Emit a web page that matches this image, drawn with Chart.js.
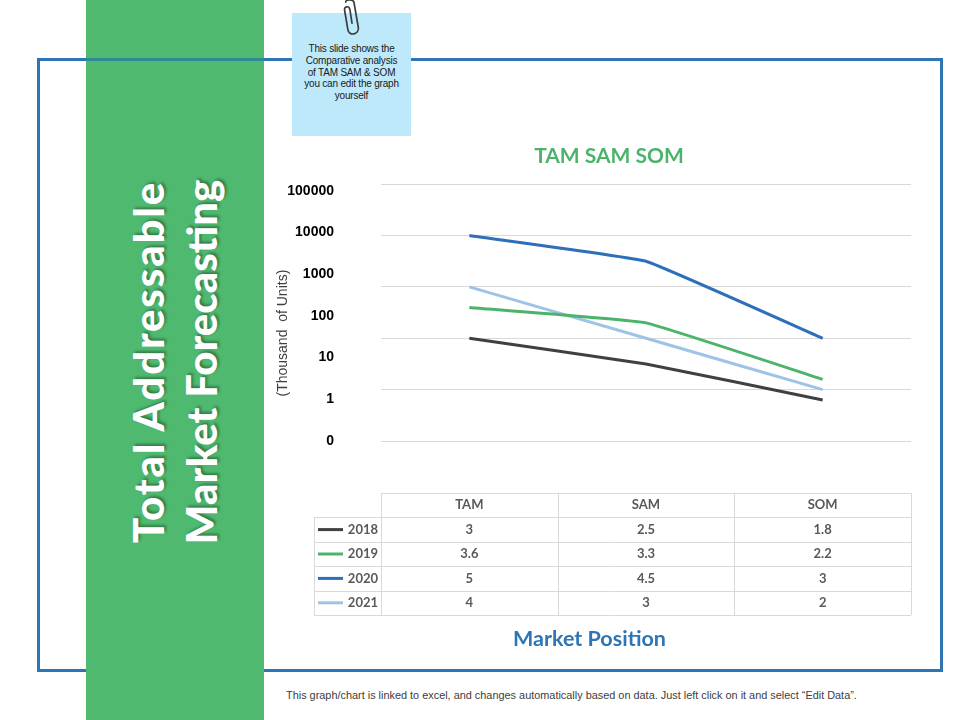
<!DOCTYPE html>
<html>
<head>
<meta charset="utf-8">
<script src="https://cdn.jsdelivr.net/npm/chart.js@4.4.1/dist/chart.umd.min.js"></script>
<style>
  html, body { margin: 0; padding: 0; background: #fff; }
  #slide { position: relative; width: 960px; height: 720px; overflow: hidden; background: #fff; }
  #band { position: absolute; left: 86px; top: 0; width: 178px; height: 720px; background: #4fba6f; }
  #frame { position: absolute; left: 37px; top: 58px; width: 906px; height: 614px; box-sizing: border-box; border: 3px solid #2e75b6; }
  #frameOnBand { position: absolute; left: 86px; top: 58px; width: 178px; height: 3px; background: #2d8a96; }
  #heading { position: absolute; left: 175px; top: 362px; width: 440px; transform: translate(-50%, -50%) rotate(-90deg);
    color: #fff; font-family: Lato, sans-serif; font-weight: 900; font-size: 42px; line-height: 53px; text-align: center;
    text-shadow: 2px 2px 3px rgba(0,0,0,0.35); white-space: nowrap; }
  #heading span { letter-spacing: 1.8px; }
  #note { position: absolute; left: 292px; top: 13px; width: 119px; height: 123px; background: #bde9fb; }
  #note p { margin: 0; position: absolute; left: 0; right: 0; top: 30px; text-align: center;
    font-family: "Liberation Sans", Arial, sans-serif; font-size: 10px; line-height: 11.8px; color: #1a1a1a; letter-spacing: -0.2px; }
  #clip { position: absolute; left: 336px; top: 0; }
  #wrap { position: absolute; left: 268px; top: 138px; width: 684px; height: 530px; }
  #footer { position: absolute; left: 286px; top: 689px; font-family: "Liberation Sans", Arial, sans-serif; font-size: 10.9px;
    color: #404040; white-space: nowrap; }
</style>
</head>
<body>
<div id="slide">
  <div id="frame"></div>
  <div id="band"></div>
  <div id="frameOnBand"></div>
  <div id="heading"><span>Total Addressable</span><br>Market Forecasting</div>
  <div id="note"><p>This slide shows the<br>Comparative analysis<br>of TAM SAM &amp; SOM<br>you can edit the graph<br>yourself</p></div>
  <svg id="clip" width="32" height="42" viewBox="0 0 30 40">
    <path d="M9 2 C9 -1 17 -1 17 3 L21 26 C22 33 12 35 11 28 L8 10 C7 6 12 5 13 9 L15 22" fill="none" stroke="#3a3a3a" stroke-width="1.6" stroke-linecap="round"/>
  </svg>
  <div id="wrap"><canvas id="myChart"></canvas></div>
  <div id="footer">This graph/chart is linked to excel, and changes automatically based on data. Just left click on it and select “Edit Data”.</div>
</div>
<script>
// chart data
var categories = ['TAM', 'SAM', 'SOM'];
var years = ['2018', '2019', '2020', '2021'];
var values2018 = [3, 2.5, 1.8];
var values2019 = [3.6, 3.3, 2.2];
var values2020 = [5, 4.5, 3];
var values2021 = [4, 3, 2];
var yTickLabels = ['0', '1', '10', '100', '1000', '10000', '100000'];
var lineColors = ['#404040', '#4cb36b', '#2e6fba', '#9dc3e6'];

var seriesValues = [values2018, values2019, values2020, values2021];

// draws the data table under the plot, and the x axis caption
var dataTable = {
  id: 'dataTable',
  afterLayout: function (chart) {
    // move the label axis: labels stand well off the plot, title sits lower
    var s = chart.scales.y2;
    s.right = chart.chartArea.left - 47;
    s.left = chart.chartArea.left - 112;
    s.width = s.right - s.left;
    s.bottom = chart.chartArea.bottom + 41;
  },
  afterDraw: function (chart) {
    var ctx = chart.ctx;
    var xs = chart.scales.x;
    var area = chart.chartArea;
    var colW = area.width / categories.length;
    var top = area.bottom + 52;
    var rowH = 24.4;
    var keyLeft = area.left - 67;
    var nRows = years.length;
    var bottom = top + rowH * (nRows + 1);

    ctx.save();
    ctx.strokeStyle = '#d9d9d9';
    ctx.lineWidth = 1;
    ctx.beginPath();
    // horizontal rules
    ctx.moveTo(area.left, top + 0.5); ctx.lineTo(area.right, top + 0.5);
    for (var r = 1; r <= nRows + 1; r++) {
      var y = Math.round(top + rowH * r) + 0.5;
      ctx.moveTo(keyLeft, y); ctx.lineTo(area.right, y);
    }
    // vertical rules
    ctx.moveTo(keyLeft + 0.5, top + rowH); ctx.lineTo(keyLeft + 0.5, bottom);
    for (var c = 0; c <= categories.length; c++) {
      var x = Math.round(area.left + colW * c) + 0.5;
      ctx.moveTo(x, top); ctx.lineTo(x, bottom);
    }
    ctx.stroke();

    ctx.fillStyle = '#595959';
    ctx.font = 'bold 13px Lato, "Open Sans", sans-serif';
    ctx.textAlign = 'center';
    ctx.textBaseline = 'middle';
    categories.forEach(function (cat, i) {
      ctx.fillText(cat, xs.getPixelForValue(i), top + rowH / 2);
    });
    years.forEach(function (yr, r) {
      var cy = top + rowH * (r + 1.5);
      ctx.strokeStyle = lineColors[r];
      ctx.lineWidth = 3;
      ctx.beginPath();
      ctx.moveTo(keyLeft + 4, cy); ctx.lineTo(keyLeft + 29, cy);
      ctx.stroke();
      ctx.textAlign = 'right';
      ctx.fillText(yr, area.left - 3, cy);
      ctx.textAlign = 'center';
      seriesValues[r].forEach(function (v, i) {
        ctx.fillText(String(v), xs.getPixelForValue(i), cy);
      });
    });

    ctx.fillStyle = '#2e75b6';
    ctx.font = 'bold 21.5px Lato, sans-serif';
    ctx.fillText('Market Position', (keyLeft + area.right) / 2 - 23, bottom + 24);
    ctx.restore();
  }
};

var ctx = document.getElementById('myChart').getContext('2d');
var myChart = new Chart(ctx, {
  type: 'line',
  data: {
    labels: categories,
    datasets: years.map(function (yr, i) {
      return {
        label: yr,
        data: seriesValues[i],
        borderColor: lineColors[i],
        backgroundColor: lineColors[i],
        borderWidth: 3,
        pointRadius: 0,
        tension: 0.08,
        yAxisID: 'y'
      };
    })
  },
  plugins: [dataTable],
  options: {
    responsive: true, maintainAspectRatio: false, animation: false,
    layout: { padding: { top: 6, left: 39, right: 41, bottom: 227 } },
    plugins: {
      legend: { display: false },
      tooltip: { enabled: false },
      title: {
        display: true, text: 'TAM SAM SOM', color: '#4cb36b',
        font: { family: 'Lato, sans-serif', size: 21, weight: 'bold', lineHeight: 1.2 },
        padding: { top: 0, bottom: 15 }
      }
    },
    scales: {
      x: {
        offset: true,
        grid: { display: false, drawTicks: false },
        border: { display: false },
        ticks: { display: false }
      },
      y: {
        position: 'left', min: 1, max: 6,
        ticks: { display: false, stepSize: 1 },
        grid: { color: '#d9d9d9', drawTicks: false },
        border: { display: false },
        afterFit: function (axis) { axis.width = 0; }
      },
      y2: {
        position: 'left', min: 0, max: 6.16,
        afterBuildTicks: function (axis) {
          axis.ticks = yTickLabels.map(function (t, i) { return { value: i }; });
        },
        afterFit: function (axis) { axis.width = 74; },
        ticks: {
          padding: 0, color: '#000',
          font: { family: '"Liberation Sans", Arial, sans-serif', size: 14, weight: 'bold' },
          callback: function (v) { return yTickLabels[v]; }
        },
        grid: { display: false, drawTicks: false },
        border: { display: false },
        title: {
          display: true, text: '(Thousand  of Units)', color: '#404040',
          font: { family: '"Liberation Sans", Arial, sans-serif', size: 14 },
          padding: { top: 6, bottom: 0 }
        }
      }
    }
  }
});
</script>
</body>
</html>
